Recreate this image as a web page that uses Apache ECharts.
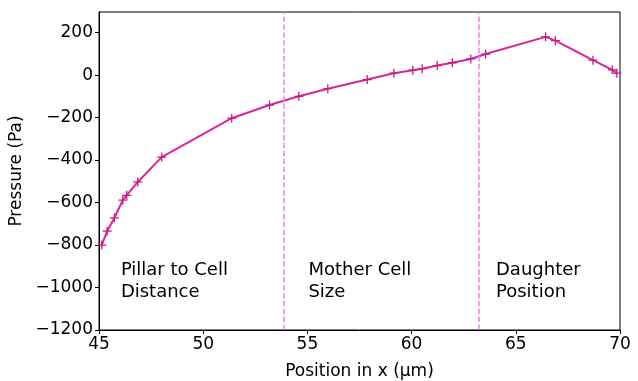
<!DOCTYPE html>
<html>
<head>
<meta charset="utf-8">
<script src="https://cdn.jsdelivr.net/npm/echarts@6/dist/echarts.min.js"></script>
<style>html,body{margin:0;padding:0;background:#fff}#c{width:638px;height:381px}</style>
</head>
<body>
<div id="c"></div>
<script>
var positionX = [45.13, 45.39, 45.74, 46.14, 46.33, 46.86, 48.01, 51.37, 53.18, 54.59, 55.98, 57.87, 59.15, 60.06, 60.51, 61.23, 61.95, 62.84, 63.55, 66.43, 66.9, 68.7, 69.63, 69.85];
var pressure = [-800, -735, -672, -589, -566, -503, -386, -203, -141, -100, -64, -21, 9, 23, 30, 45, 58, 76, 99, 180, 162, 70, 25, 9];
var boundaries = [53.86, 63.22];
var regionLabels = ['Pillar to Cell\nDistance', 'Mother Cell\nSize', 'Daughter\nPosition'];
var regionLabelX = [46.05, 55.05, 64.05];
var regionLabelY = -1075;
var xTicks = [45, 50, 55, 60, 65, 70];
var yTicks = [-1200, -1000, -800, -600, -400, -200, 0, 200];

var FONT = 'DejaVu Sans';
var chart = echarts.init(document.getElementById('c'), null, {renderer: 'canvas'});
var data = positionX.map(function (x, i) { return [x, pressure[i]]; });

chart.setOption({
  animation: false,
  grid: {left: 99, right: 18, top: 12, bottom: 51, show: true, borderColor: '#000', borderWidth: 1, containLabel: false, outerBoundsMode: 'none'},
  xAxis: {
    type: 'value', min: 45, max: 70, interval: 5,
    name: 'Position in x (\u03bcm)', nameLocation: 'middle', nameGap: 33,
    nameTextStyle: {fontFamily: FONT, fontSize: 17, color: '#000'},
    axisLine: {show: true, onZero: false, lineStyle: {color: '#000', width: 1}},
    axisTick: {show: true, length: 4, lineStyle: {color: '#000'}},
    axisLabel: {fontFamily: FONT, fontSize: 17, color: '#000', margin: 6,
      formatter: function (v) { return xTicks.indexOf(v) >= 0 ? String(v) : ''; }},
    splitLine: {show: false}
  },
  yAxis: {
    type: 'value', min: -1200, max: 297, interval: 200,
    name: 'Pressure (Pa)', nameLocation: 'middle', nameGap: 70,
    nameTextStyle: {fontFamily: FONT, fontSize: 17, color: '#000'},
    axisLine: {show: true, onZero: false, lineStyle: {color: '#000', width: 1}},
    axisTick: {show: true, length: 4, lineStyle: {color: '#000'}},
    axisLabel: {fontFamily: FONT, fontSize: 17, color: '#000', margin: 6, showMaxLabel: false,
      formatter: function (v) { return yTicks.indexOf(v) >= 0 ? String(v).replace('-', '\u2212') : ''; }},
    splitLine: {show: false}
  },
  series: [{
    type: 'line', data: data,
    lineStyle: {color: '#d62795', width: 2},
    symbol: 'path://M0,5L10,5M5,0L5,10', symbolSize: 9, showSymbol: true,
    itemStyle: {color: 'none', borderColor: '#c81a87', borderWidth: 1.3},
    markLine: {
      silent: true, symbol: 'none', label: {show: false},
      lineStyle: {color: '#f47ef4', type: [5.5, 2.4], width: 1.5},
      data: boundaries.map(function (b) { return {xAxis: b}; })
    },
    z: 3
  }]
});

var g = regionLabels.map(function (t, i) {
  var p = chart.convertToPixel({gridIndex: 0}, [regionLabelX[i], regionLabelY]);
  return {type: 'text', x: p[0], y: p[1], style: {text: t, fontFamily: FONT, fontSize: 18, fill: '#000', lineHeight: 22, textAlign: 'left', textVerticalAlign: 'bottom'}};
});
chart.setOption({graphic: g});
</script>
</body>
</html>
